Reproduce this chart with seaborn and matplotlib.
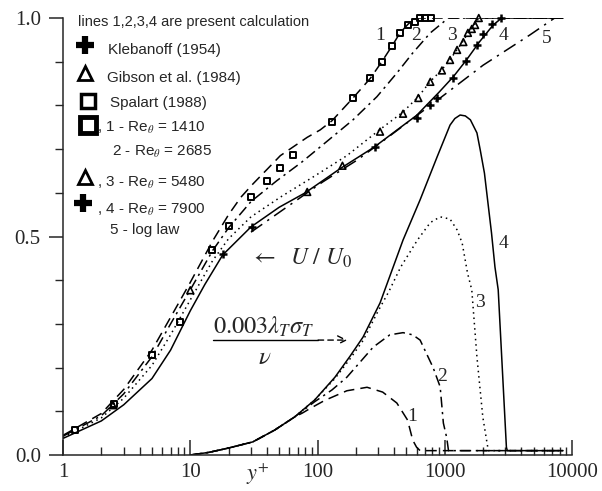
import numpy as np
import matplotlib
matplotlib.use("Agg")
import matplotlib.pyplot as plt
import seaborn as sns

# velocity profiles U/U0 (curves 1-4 present calculation, 5 log law)
u1_x = [1, 2, 3, 5, 7, 10, 15, 20, 25, 31, 51, 83, 105, 130, 190, 260, 320, 385, 445, 515, 560, 600, 8500]
u1_y = [0.045, 0.095, 0.15, 0.24, 0.315, 0.395, 0.49, 0.55, 0.59, 0.62, 0.685, 0.727, 0.744, 0.765, 0.817, 0.862, 0.9, 0.936, 0.966, 0.986, 0.995, 1.0, 1.0]
u2_x = [1, 2, 3, 5, 7, 10, 15, 20, 30, 48, 75, 105, 190, 293, 420, 560, 770, 970, 1060, 8500]
u2_y = [0.043, 0.09, 0.14, 0.225, 0.3, 0.378, 0.468, 0.52, 0.58, 0.628, 0.67, 0.705, 0.767, 0.82, 0.874, 0.92, 0.966, 0.99, 1.0, 1.0]
u3_x = [1, 2, 3, 5, 7, 10, 15, 20, 30, 51, 92, 170, 310, 470, 620, 770, 950, 1100, 1250, 1400, 1520, 1650, 1780, 1850, 8500]
u3_y = [0.04, 0.085, 0.13, 0.205, 0.275, 0.355, 0.445, 0.495, 0.545, 0.59, 0.636, 0.685, 0.745, 0.785, 0.82, 0.855, 0.882, 0.905, 0.928, 0.948, 0.966, 0.978, 0.992, 1.0, 1.0]
u4_x = [1, 2, 3, 5, 7, 10, 13, 18, 30, 50, 80, 150, 280, 450, 600, 900, 1170, 1480, 1880, 2400, 2800, 8500]
u4_y = [0.038, 0.078, 0.115, 0.175, 0.24, 0.33, 0.39, 0.458, 0.522, 0.567, 0.6, 0.655, 0.705, 0.75, 0.777, 0.83, 0.866, 0.904, 0.946, 0.984, 1.0, 1.0]
u5_x = [30, 110, 205, 350, 920, 2000, 4650, 7300, 8500]
u5_y = [0.51, 0.625, 0.675, 0.725, 0.817, 0.892, 0.961, 1.0, 1.0]

# 0.003 lambda_T sigma_T / nu profiles
l1_x = [10, 14, 20, 31, 46, 66, 76, 88, 114, 170, 245, 325, 420, 510, 560, 600, 640, 8500]
l1_y = [0.0, 0.006, 0.016, 0.03, 0.057, 0.087, 0.096, 0.107, 0.125, 0.147, 0.155, 0.144, 0.119, 0.08, 0.034, 0.018, 0.01, 0.01]
l2_x = [10, 14, 20, 31, 46, 66, 95, 130, 170, 274, 370, 470, 560, 640, 810, 920, 975, 1035, 1070, 8500]
l2_y = [0.0, 0.006, 0.016, 0.03, 0.057, 0.087, 0.122, 0.149, 0.178, 0.247, 0.275, 0.28, 0.275, 0.263, 0.2, 0.156, 0.073, 0.04, 0.01, 0.01]
l3_x = [10, 14, 20, 31, 46, 66, 95, 137, 180, 228, 300, 365, 450, 610, 770, 920, 1100, 1250, 1370, 1510, 1630, 1790, 1990, 2150, 2200, 8500]
l3_y = [0.0, 0.006, 0.016, 0.03, 0.057, 0.087, 0.126, 0.175, 0.22, 0.262, 0.33, 0.375, 0.43, 0.492, 0.532, 0.545, 0.54, 0.515, 0.485, 0.416, 0.378, 0.224, 0.087, 0.027, 0.01, 0.01]
l4_x = [10, 14, 20, 31, 46, 66, 95, 137, 180, 228, 310, 470, 640, 870, 1100, 1200, 1320, 1450, 1590, 1790, 1900, 2050, 2170, 2330, 2480, 2630, 3050, 3100, 8500]
l4_y = [0.0, 0.006, 0.016, 0.03, 0.057, 0.087, 0.126, 0.178, 0.226, 0.27, 0.348, 0.492, 0.584, 0.682, 0.755, 0.77, 0.778, 0.776, 0.767, 0.737, 0.698, 0.645, 0.584, 0.508, 0.43, 0.378, 0.018, 0.01, 0.01]

# experiments
spalart_x = [1.25, 2.5, 5.0, 8.3, 14.9, 20, 30, 40, 51, 64, 130, 190, 259, 320, 385, 445, 515, 580, 640, 700, 780]
spalart_y = [0.058, 0.117, 0.229, 0.304, 0.47, 0.524, 0.59, 0.628, 0.657, 0.686, 0.762, 0.817, 0.862, 0.9, 0.936, 0.966, 0.984, 0.991, 1.0, 1.0, 1.0]
gibson_x = [2.47, 10, 83, 157, 310, 470, 620, 770, 950, 1100, 1250, 1400, 1520, 1630, 1730, 1850]
gibson_y = [0.114, 0.377, 0.602, 0.662, 0.74, 0.781, 0.817, 0.854, 0.88, 0.904, 0.927, 0.945, 0.966, 0.975, 0.984, 1.0]
kleb_x = [18, 30.6, 283, 605, 770, 870, 1160, 1460, 1790, 1990, 2350, 2750]
kleb_y = [0.46, 0.522, 0.705, 0.771, 0.80, 0.817, 0.862, 0.902, 0.938, 0.963, 0.986, 1.0]

sns.set_style("ticks")
plt.rcParams['font.family'] = ['Liberation Serif', 'DejaVu Serif']
plt.rcParams['mathtext.fontset'] = 'stix'

fig = plt.figure(figsize=(6.02, 4.91), dpi=100)
ax = fig.add_axes([0.1047, 0.0733, 0.8455, 0.890])

styles = {
    1: (0, (7, 4)),
    2: (0, (7, 3, 1.5, 3)),
    3: (0, (1, 2.5)),
    4: '-',
    5: (0, (9, 4, 1.5, 4)),
}
for k, (xs, ys) in {1: (u1_x, u1_y), 2: (u2_x, u2_y), 3: (u3_x, u3_y),
                    4: (u4_x, u4_y), 5: (u5_x, u5_y)}.items():
    sns.lineplot(x=xs, y=ys, ax=ax, color='k', lw=1.1, linestyle=styles[k],
                 sort=False, estimator=None)
for k, (xs, ys) in {1: (l1_x, l1_y), 2: (l2_x, l2_y), 3: (l3_x, l3_y),
                    4: (l4_x, l4_y)}.items():
    sns.lineplot(x=xs, y=ys, ax=ax, color='k', lw=1.1, linestyle=styles[k],
                 sort=False, estimator=None)

sns.scatterplot(x=spalart_x, y=spalart_y, ax=ax, marker='s', s=18,
                facecolor='none', edgecolor='k', linewidth=1.4, zorder=5,
                clip_on=False)
sns.scatterplot(x=gibson_x, y=gibson_y, ax=ax, marker='^', s=24,
                facecolor='none', edgecolor='k', linewidth=1.2, zorder=5,
                clip_on=False)
sns.scatterplot(x=kleb_x, y=kleb_y, ax=ax, marker='+', s=26,
                color='k', linewidth=1.8, zorder=5, clip_on=False)

ax.set_xscale('log')
ax.set_xlim(1, 10000)
ax.set_ylim(0, 1)
ax.set_xticks([1, 10, 100, 1000, 10000])
ax.set_xticklabels(['1', '10', '100', '1000', '10000'])
ax.set_yticks([0.0, 0.5, 1.0])
ax.set_yticklabels(['0.0', '0.5', '1.0'])
ax.set_yticks(np.arange(0.1, 1.0, 0.1), minor=True)
ax.tick_params(axis='x', which='major', direction='in', length=11, width=1.1,
               labelsize=15, pad=6)
ax.tick_params(axis='x', which='minor', direction='in', length=6, width=1.0)
ax.tick_params(axis='y', which='major', direction='out', length=10, width=1.1,
               labelsize=15, pad=6)
ax.tick_params(axis='y', which='minor', direction='out', length=6, width=1.0)
for s in ['top', 'right']:
    ax.spines[s].set_visible(False)
for s in ['left', 'bottom']:
    ax.spines[s].set_linewidth(1.1)

# curve numbers
for t, x, y in [('1', 310, 0.959), ('2', 594, 0.959), ('3', 1140, 0.959),
                ('4', 2870, 0.959), ('5', 6360, 0.952),
                ('1', 553, 0.087), ('2', 951, 0.179), ('3', 1893, 0.350),
                ('4', 2870, 0.483)]:
    ax.text(x, y, t, fontsize=14, ha='center', va='center')

ax.text(29.5, 0.451, r'$\leftarrow\ \ U\ /\ U_0$', fontsize=17, va='center')
ax.text(15.1, 0.293, r'$0.003\lambda_T\sigma_T$', fontsize=17.5, va='center')
ax.text(38.7, 0.222, r'$\nu$', fontsize=18, va='center', ha='center')
ax.plot([15.1, 101], [0.263, 0.263], color='k', lw=1.0)
ax.annotate('', xy=(172, 0.263), xytext=(101, 0.263),
            arrowprops=dict(arrowstyle='->,head_length=0.6,head_width=0.3',
                            lw=1.0, linestyle=(0, (4, 3)),
                            color='k', shrinkA=0, shrinkB=0))
ax.text(34, -0.043, r'$y^{+}$', fontsize=16, ha='center', va='center',
        transform=ax.get_xaxis_transform())

# hand-made legend
sans = ['Liberation Sans', 'DejaVu Sans']
tr = ax.transAxes
ax.text(0.029, 0.99, 'lines 1,2,3,4 are present calculation', family=sans,
        fontsize=10.5, va='center', transform=tr)
ax.plot([0.043], [0.938], marker='+', ms=13, mew=4.5, color='k', transform=tr, clip_on=False)
ax.text(0.088, 0.927, 'Klebanoff (1954)', family=sans, fontsize=11, va='center', transform=tr)
ax.plot([0.043], [0.874], marker='^', ms=10, mew=2, mfc='none', mec='k', transform=tr, clip_on=False)
ax.text(0.086, 0.863, 'Gibson et al. (1984)', family=sans, fontsize=11, va='center', transform=tr)
ax.plot([0.049], [0.81], marker='s', ms=10, mew=2.5, mfc='none', mec='k', transform=tr, clip_on=False)
ax.text(0.092, 0.805, 'Spalart (1988)', family=sans, fontsize=11, va='center', transform=tr)
ax.plot([0.049], [0.755], marker='s', ms=12, mew=3.5, mfc='none', mec='k', transform=tr, clip_on=False)
ax.text(0.067, 0.748, r', 1 - Re$_\theta$ = 1410', family=sans, fontsize=11, va='center', transform=tr)
ax.text(0.096, 0.693, r'2 - Re$_\theta$ = 2685', family=sans, fontsize=11, va='center', transform=tr)
ax.plot([0.043], [0.636], marker='^', ms=10, mew=2, mfc='none', mec='k', transform=tr, clip_on=False)
ax.text(0.067, 0.622, r', 3 - Re$_\theta$ = 5480', family=sans, fontsize=11, va='center', transform=tr)
ax.plot([0.039], [0.577], marker='+', ms=13, mew=4.5, color='k', transform=tr, clip_on=False)
ax.text(0.067, 0.561, r', 4 - Re$_\theta$ = 7900', family=sans, fontsize=11, va='center', transform=tr)
ax.text(0.092, 0.515, '5 - log law', family=sans, fontsize=11, va='center', transform=tr)

fig.savefig('out.png', dpi=100)
